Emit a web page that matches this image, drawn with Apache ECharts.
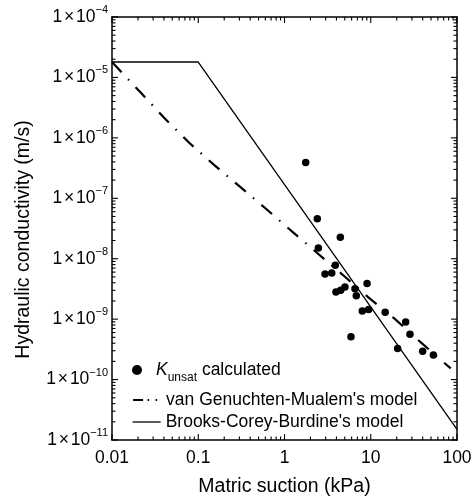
<!DOCTYPE html>
<html>
<head>
<meta charset="utf-8">
<script src="https://cdn.jsdelivr.net/npm/echarts@6/dist/echarts.min.js"></script>
<style>
  html, body { margin: 0; padding: 0; background: #fff; }
  #chart { width: 476px; height: 502px; }
</style>
</head>
<body>
<div id="chart"></div>
<script>
// Measured unsaturated hydraulic conductivity vs. matric suction
const suctionKPa = [1.76, 2.4, 4.44, 2.47, 3.88, 2.95, 3.53, 9.06, 6.56, 5.02, 4.48,
                    3.95, 6.8, 7.98, 9.46, 14.7, 25.4, 28.5, 5.9, 20.5, 40, 53.2];
const kUnsat = [3.9e-7, 4.6e-8, 2.26e-8, 1.51e-8, 7.76e-9, 5.6e-9, 5.8e-9, 3.9e-9, 3.18e-9,
                3.4e-9, 3.0e-9, 2.8e-9, 2.45e-9, 1.37e-9, 1.44e-9, 1.30e-9, 9.0e-10,
                5.6e-10, 5.1e-10, 3.26e-10, 2.95e-10, 2.54e-10];

// van Genuchten-Mualem model curve
const vgSuction = [0.01, 0.0218, 0.0415, 0.0802, 0.156, 0.309, 0.614, 1.22, 2.43, 4.73,
                   9.46, 19.0, 37.2, 84.5];
const vgK = [1.8e-5, 5.5e-6, 2.05e-6, 8.07e-7, 3.47e-7, 1.53e-7, 6.65e-8, 2.84e-8, 1.22e-8,
             5.42e-9, 2.27e-9, 1.01e-9, 4.25e-10, 1.53e-10];

// Brooks-Corey-Burdine model line
const bcSuction = [0.01, 0.1, 100];
const bcK = [1.8e-5, 1.8e-5, 1.5e-11];

// Axis ticks
const xTickLabels = ['0.01', '0.1', '1', '10', '100'];
const yTickExponents = ['−11', '−10', '−9', '−8', '−7', '−6', '−5', '−4'];
const xDecades = [0.01, 0.1, 1, 10, 100];
const yDecades = [1e-11, 1e-10, 1e-9, 1e-8, 1e-7, 1e-6, 1e-5, 1e-4];
const minorSteps = [2, 3, 4, 5, 6, 7, 8, 9];

const X_MIN = 0.01, X_MAX = 100, Y_MIN = 1e-11, Y_MAX = 1e-4;
const FONT = '"Liberation Sans", Arial, Helvetica, sans-serif';

// logarithmic minor tick positions (2..9 within each decade)
const xMinor = [];
xDecades.slice(0, -1).forEach(d => minorSteps.forEach(m => xMinor.push(+(d * m).toPrecision(6))));
const yMinor = [];
yDecades.slice(0, -1).forEach(d => minorSteps.forEach(m => yMinor.push(+(d * m).toPrecision(6))));

// Tick marks drawn inward on all four sides of the frame
function xTickRenderer(len) {
  return function (params, api) {
    const v = api.value(0);
    const b = api.coord([v, Y_MIN]);
    const t = api.coord([v, Y_MAX]);
    return {
      type: 'group',
      children: [
        { type: 'line', shape: { x1: b[0], y1: b[1], x2: b[0], y2: b[1] - len },
          style: { stroke: '#000', lineWidth: 1.1 } },
        { type: 'line', shape: { x1: t[0], y1: t[1], x2: t[0], y2: t[1] + len },
          style: { stroke: '#000', lineWidth: 1.1 } }
      ]
    };
  };
}
function yTickRenderer(len) {
  return function (params, api) {
    const v = api.value(1);
    const l = api.coord([X_MIN, v]);
    const r = api.coord([X_MAX, v]);
    return {
      type: 'group',
      children: [
        { type: 'line', shape: { x1: l[0], y1: l[1], x2: l[0] + len, y2: l[1] },
          style: { stroke: '#000', lineWidth: 1.1 } },
        { type: 'line', shape: { x1: r[0], y1: r[1], x2: r[0] - len, y2: r[1] },
          style: { stroke: '#000', lineWidth: 1.1 } }
      ]
    };
  };
}
function tickSeries(renderer, data) {
  return { type: 'custom', renderItem: renderer, data: data, silent: true, clip: false,
           xAxisIndex: 0, yAxisIndex: 0, z: 5 };
}

const axisLine = { show: true, onZero: false, lineStyle: { color: '#000', width: 1.5 } };
const noTick = { show: false };
const noLabel = { show: false };
const noSplit = { show: false };

const legendBase = {
  orient: 'vertical',
  left: 127,
  itemWidth: 28,
  itemHeight: 10,
  selectedMode: false,
  textStyle: { fontFamily: FONT, fontSize: 17.5, color: '#000', lineHeight: 20 }
};

const chart = echarts.init(document.getElementById('chart'), null, { renderer: 'canvas' });
chart.setOption({
  animation: false,
  backgroundColor: '#fff',
  textStyle: { fontFamily: FONT, color: '#000' },
  grid: { left: 112, right: 19, top: 17, bottom: 58 },
  xAxis: [
    {
      type: 'log', logBase: 10, min: X_MIN, max: X_MAX,
      position: 'bottom',
      name: 'Matric suction (kPa)', nameLocation: 'middle', nameGap: 37,
      nameTextStyle: { fontFamily: FONT, fontSize: 19.5, color: '#000' },
      axisLine, axisTick: noTick,
      axisLabel: {
        fontFamily: FONT, fontSize: 17.5, color: '#000', margin: 9,
        formatter: (v, i) => xTickLabels[i]
      },
      splitLine: noSplit
    },
    {
      type: 'log', logBase: 10, min: X_MIN, max: X_MAX,
      position: 'top',
      axisLine, axisTick: noTick, axisLabel: noLabel, splitLine: noSplit
    }
  ],
  yAxis: [
    {
      type: 'log', logBase: 10, min: Y_MIN, max: Y_MAX,
      position: 'left',
      name: 'Hydraulic conductivity (m/s)', nameLocation: 'middle', nameGap: 78,
      nameRotate: 90,
      nameTextStyle: { fontFamily: FONT, fontSize: 19.5, color: '#000', padding: [0, 22, 0, 0] },
      axisLine, axisTick: noTick,
      axisLabel: {
        margin: 4,
        formatter: (v, i) => '{b|1}{x|×}{b|10}{s|' + yTickExponents[i] + '}',
        rich: {
          b: { fontFamily: FONT, fontSize: 17.5, color: '#000', lineHeight: 20 },
          x: { fontFamily: FONT, fontSize: 17.5, color: '#000', lineHeight: 20, padding: [0, 1.8, 0, 1.8] },
          s: { fontFamily: FONT, fontSize: 11, color: '#000', lineHeight: 12, padding: [0, 0, 14, 0] }
        }
      },
      splitLine: noSplit
    },
    {
      type: 'log', logBase: 10, min: Y_MIN, max: Y_MAX,
      position: 'right',
      axisLine, axisTick: noTick, axisLabel: noLabel, splitLine: noSplit
    }
  ],
  legend: [
    Object.assign({}, legendBase, {
      top: 351,
      data: [{ name: 'Kunsat calculated', icon: 'circle' }],
      formatter: () => '{k|K}{sub|unsat}{t| calculated}',
      textStyle: {
        fontFamily: FONT, fontSize: 17.5, color: '#000',
        rich: {
          k: { fontFamily: FONT, fontSize: 17.5, fontStyle: 'italic', color: '#000', lineHeight: 20 },
          sub: { fontFamily: FONT, fontSize: 12, color: '#000', lineHeight: 14, padding: [16, 0, 0, 0] },
          t: { fontFamily: FONT, fontSize: 17.5, color: '#000', lineHeight: 20 }
        }
      }
    }),
    Object.assign({}, legendBase, {
      top: 385,
      data: ["van Genuchten-Mualem's model"],
      itemStyle: { opacity: 0 },
      lineStyle: { type: [10, 4.5, 1.5, 6.5, 1.5, 6], width: 2.2, color: '#000' }
    }),
    Object.assign({}, legendBase, {
      top: 407,
      data: ["Brooks-Corey-Burdine's model"],
      itemStyle: { opacity: 0 },
      lineStyle: { width: 1.3, color: '#000' }
    })
  ],
  series: [
    {
      name: "Brooks-Corey-Burdine's model",
      type: 'line',
      data: bcSuction.map((x, i) => [x, bcK[i]]),
      symbol: 'none',
      lineStyle: { color: '#000', width: 1.3 },
      itemStyle: { color: '#000' },
      z: 3
    },
    {
      name: "van Genuchten-Mualem's model",
      type: 'line',
      data: vgSuction.map((x, i) => [x, vgK[i]]),
      symbol: 'none',
      lineStyle: { color: '#000', width: 2.2, type: [14, 9.5, 1.5, 9.5], cap: 'butt' },
      itemStyle: { color: '#000' },
      z: 3
    },
    {
      name: 'Kunsat calculated',
      type: 'scatter',
      data: suctionKPa.map((x, i) => [x, kUnsat[i]]),
      symbol: 'circle',
      symbolSize: 7.5,
      itemStyle: { color: '#000', opacity: 1 },
      z: 4
    },
    tickSeries(xTickRenderer(6), xDecades.map(v => [v, Y_MIN])),
    tickSeries(xTickRenderer(3.5), xMinor.map(v => [v, Y_MIN])),
    tickSeries(yTickRenderer(6), yDecades.map(v => [X_MIN, v])),
    tickSeries(yTickRenderer(3.5), yMinor.map(v => [X_MIN, v]))
  ]
});
</script>
</body>
</html>
